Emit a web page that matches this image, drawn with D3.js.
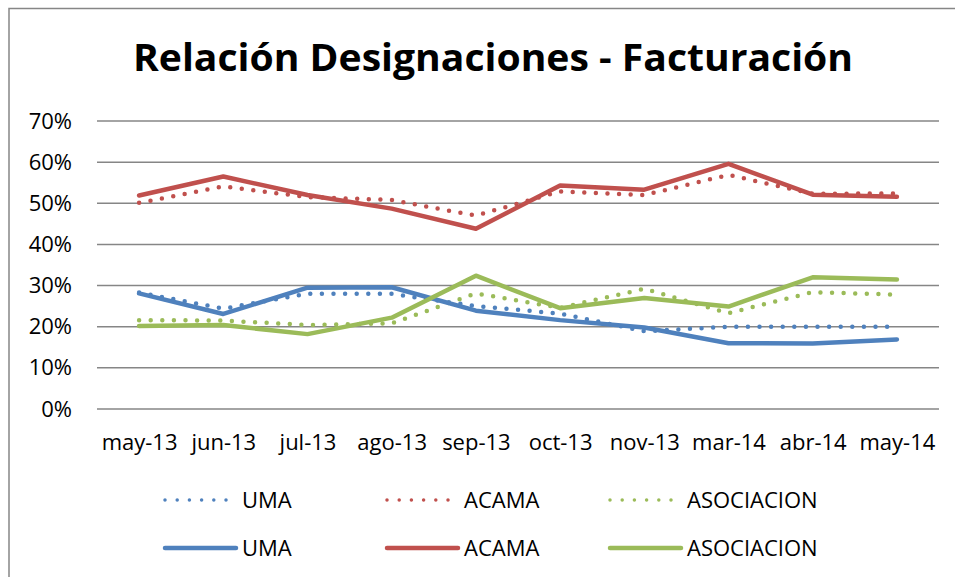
<!DOCTYPE html>
<html>
<head>
<meta charset="utf-8">
<script src="https://cdn.jsdelivr.net/npm/d3@7"></script>
<style>
  body { margin: 0; background: #fff; }
  text { font-family: "Open Sans", "DejaVu Sans", sans-serif; fill: #000; }
</style>
</head>
<body>
<div id="chart"></div>
<script>
var width = 955;
var height = 577;

// data (percent)
var categories = ["may-13", "jun-13", "jul-13", "ago-13", "sep-13", "oct-13", "nov-13", "mar-14", "abr-14", "may-14"];
var yTicks = [0, 10, 20, 30, 40, 50, 60, 70];

var umaDotted   = [28.3, 24.4, 28.0, 28.0, 25.0, 23.2, 18.9, 20.0, 20.0, 20.0];
var acamaDotted = [50.1, 54.1, 51.5, 50.8, 47.0, 52.9, 52.0, 56.9, 52.3, 52.4];
var asocDotted  = [21.6, 21.5, 20.4, 20.8, 28.1, 24.6, 29.2, 23.3, 28.4, 27.8];

var umaSolid   = [28.1, 23.1, 29.5, 29.6, 23.9, 21.6, 19.8, 16.0, 15.9, 16.9];
var acamaSolid = [51.9, 56.5, 52.0, 48.7, 43.8, 54.3, 53.3, 59.6, 52.1, 51.6];
var asocSolid  = [20.2, 20.4, 18.2, 22.2, 32.4, 24.5, 27.0, 24.9, 32.0, 31.5];

var seriesNames = ["UMA", "ACAMA", "ASOCIACION"];
var colors = ["#4f81bd", "#c0504d", "#9bbb59"];

var series = [
  { name: "UMA", values: umaDotted, color: colors[0], dotted: true },
  { name: "ACAMA", values: acamaDotted, color: colors[1], dotted: true },
  { name: "ASOCIACION", values: asocDotted, color: colors[2], dotted: true },
  { name: "UMA", values: umaSolid, color: colors[0], dotted: false },
  { name: "ACAMA", values: acamaSolid, color: colors[1], dotted: false },
  { name: "ASOCIACION", values: asocSolid, color: colors[2], dotted: false }
];

var svg = d3.select("#chart")
            .append("svg")
            .attr("width", width)
            .attr("height", height);

// outer chart border (runs off right and bottom)
svg.append("rect")
   .attr("x", 9)
   .attr("y", 8.5)
   .attr("width", width)
   .attr("height", height)
   .attr("fill", "none")
   .attr("stroke", "#868686")
   .attr("stroke-width", 1.5);

// title
svg.append("text")
   .attr("x", 133)
   .attr("y", 71)
   .attr("textLength", 720)
   .attr("lengthAdjust", "spacingAndGlyphs")
   .style("font-size", "38px")
   .style("font-weight", "bold")
   .text("Relación Designaciones - Facturación");

var x = d3.scalePoint()
          .domain(categories)
          .range([97, 939])
          .padding(0.5);

var y = d3.scaleLinear()
          .domain([0, 70])
          .range([409, 121]);

// gridlines
svg.append("g")
   .selectAll("line")
   .data(yTicks)
   .enter()
   .append("line")
   .attr("x1", 97)
   .attr("x2", 939)
   .attr("y1", function(d) { return y(d); })
   .attr("y2", function(d) { return y(d); })
   .attr("stroke", "#868686")
   .attr("stroke-width", 1.5);

// y axis labels
var yAxis = d3.axisLeft(y)
              .tickValues(yTicks)
              .tickSize(0)
              .tickPadding(0)
              .tickFormat(function(d) { return d + "%"; });

var gy = svg.append("g")
            .attr("transform", "translate(72,0)")
            .call(yAxis);
gy.select(".domain").remove();
gy.selectAll("text").style("font-size", "22px").attr("fill", "#000");

// x axis labels
var xAxis = d3.axisBottom(x).tickSize(0).tickPadding(0);
var gx = svg.append("g")
            .attr("transform", "translate(0,432)")
            .call(xAxis);
gx.select(".domain").remove();
gx.selectAll("text").style("font-size", "22px").attr("fill", "#000").attr("dy", "0.8em");

var line = d3.line()
             .x(function(d, i) { return x(categories[i]); })
             .y(function(d) { return y(d); });

svg.append("g")
   .selectAll("path")
   .data(series)
   .enter()
   .append("path")
   .attr("d", function(s) { return line(s.values); })
   .attr("fill", "none")
   .attr("stroke", function(s) { return s.color; })
   .attr("stroke-width", function(s) { return s.dotted ? 4.5 : 4.5; })
   .attr("stroke-linecap", "round")
   .attr("stroke-linejoin", "round")
   .attr("stroke-dasharray", function(s) { return s.dotted ? "0,11.6" : null; });

// legend: two rows, dotted on top, solid below
var legendX = [165, 387, 610];
var legendY = [500, 548];

series.forEach(function(s, i) {
  var col = i % 3;
  var row = s.dotted ? 0 : 1;
  var lx = legendX[col];
  var ly = legendY[row];
  svg.append("line")
     .attr("x1", lx)
     .attr("x2", s.dotted ? lx + 61 : lx + 71)
     .attr("y1", ly)
     .attr("y2", ly)
     .attr("stroke", s.color)
     .attr("stroke-width", s.dotted ? 3.5 : 4.5)
     .attr("stroke-linecap", "round")
     .attr("stroke-dasharray", s.dotted ? "0,12.2" : null);
  svg.append("text")
     .attr("x", lx + 77)
     .attr("y", ly + 7.5)
     .style("font-size", "22px")
     .text(s.name);
});
</script>
</body>
</html>
